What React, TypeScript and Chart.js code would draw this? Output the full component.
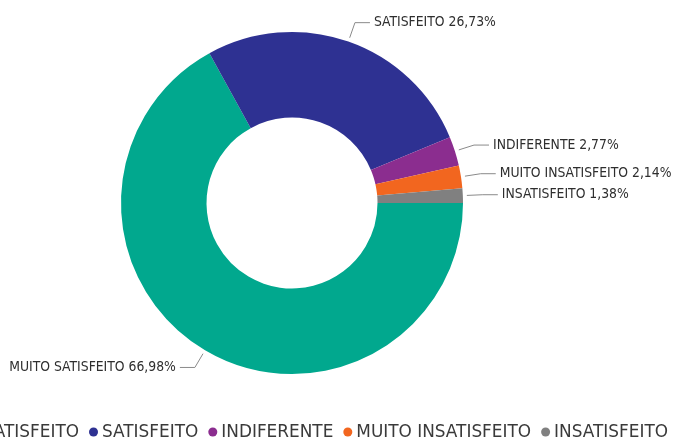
import React, { useEffect, useRef } from "react";
import { Chart, registerables } from "chart.js";

Chart.register(...registerables);

const categories = [
  "MUITO SATISFEITO",
  "SATISFEITO",
  "INDIFERENTE",
  "MUITO INSATISFEITO",
  "INSATISFEITO",
];
const values = [66.98, 26.73, 2.77, 2.14, 1.38];
const colors = ["#01A88E", "#2E3192", "#8B2D8F", "#F2661F", "#808080"];

const fmt = (v: number) => v.toFixed(2).replace(".", ",") + "%";

const labelPlugin = {
  id: "outerLabels",
  afterDraw(chart: any) {
    const ctx = chart.ctx;
    const meta = chart.getDatasetMeta(0);
    ctx.save();
    ctx.font = "13.8px 'DejaVu Sans Condensed', 'DejaVu Sans', sans-serif";
    ctx.textBaseline = "middle";
    meta.data.forEach((el: any, i: number) => {
      const p = el.getProps(["x", "y", "startAngle", "endAngle", "outerRadius"], true);
      const mid = (p.startAngle + p.endAngle) / 2;
      const cos = Math.cos(mid);
      const sin = Math.sin(mid);
      const r0 = p.outerRadius + 4;
      const r1 = p.outerRadius + 20;
      const sx = p.x + cos * r0;
      const sy = p.y + sin * r0;
      const ex = p.x + cos * r1;
      const ey = p.y + sin * r1;
      const right = cos >= 0;
      const hx = ex + (right ? 15 : -15);
      ctx.strokeStyle = "#8a8a8a";
      ctx.lineWidth = 1;
      ctx.beginPath();
      ctx.moveTo(sx, sy);
      ctx.lineTo(ex, ey);
      ctx.lineTo(hx, ey);
      ctx.stroke();
      ctx.fillStyle = "#2e2e2e";
      ctx.textAlign = right ? "left" : "right";
      ctx.fillText(
        `${categories[i]} ${fmt(values[i])}`,
        hx + (right ? 4 : -4),
        ey
      );
    });
    ctx.restore();
  },
};

const legendPlugin = {
  id: "bottomLegend",
  afterDraw(chart: any) {
    const ctx = chart.ctx;
    ctx.save();
    ctx.font = "16.9px 'DejaVu Sans', sans-serif";
    ctx.textBaseline = "middle";
    ctx.textAlign = "left";
    const dot = 9;
    const gapDotText = 4;
    const gapItems = 10;
    const widths = categories.map((c) => ctx.measureText(c).width);
    const total =
      widths.reduce((a: number, w: number) => a + dot + gapDotText + w, 0) +
      gapItems * (categories.length - 1);
    const endX = 668;
    const y = 432;
    let x = endX - total;
    categories.forEach((c, i) => {
      ctx.fillStyle = colors[i];
      ctx.beginPath();
      ctx.arc(x + dot / 2, y, dot / 2, 0, Math.PI * 2);
      ctx.fill();
      x += dot + gapDotText;
      ctx.fillStyle = "#3a3a3a";
      ctx.fillText(c, x, y + 1);
      x += widths[i] + gapItems;
    });
    ctx.restore();
  },
};

export default function App() {
  const canvasRef = useRef<HTMLCanvasElement>(null);

  useEffect(() => {
    if (!canvasRef.current) return;
    const chart = new Chart(canvasRef.current, {
      type: "doughnut",
      data: {
        labels: categories,
        datasets: [
          {
            data: values,
            backgroundColor: colors,
            borderWidth: 0,
            hoverOffset: 0,
          },
        ],
      },
      options: {
        responsive: true,
        maintainAspectRatio: false,
        animation: false,
        rotation: 90,
        cutout: "50%",
        layout: { padding: { left: 121, right: 214, top: 32, bottom: 72 } },
        plugins: {
          legend: { display: false },
          tooltip: { enabled: false },
        },
      },
      plugins: [labelPlugin, legendPlugin],
    });
    return () => chart.destroy();
  }, []);

  return (
    <div
      style={{
        position: "absolute",
        left: 0,
        top: 0,
        width: 677,
        height: 446,
        background: "#ffffff",
      }}
    >
      <canvas ref={canvasRef} />
    </div>
  );
}
